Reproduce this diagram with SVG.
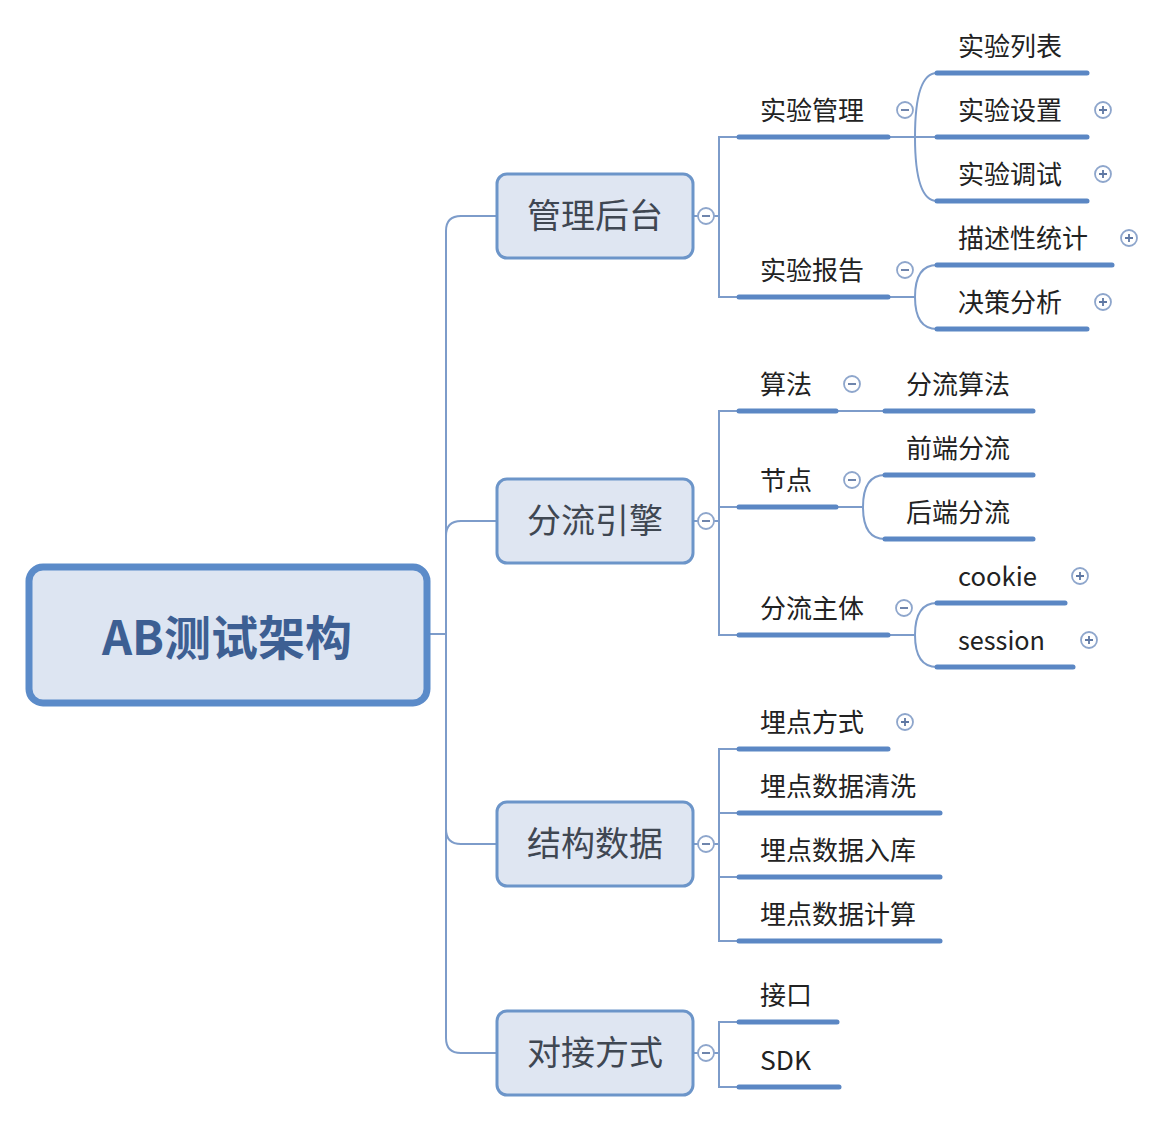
<svg xmlns="http://www.w3.org/2000/svg" width="1154" height="1122" viewBox="0 0 1154 1122">
<style>
  .conn { fill: none; stroke: #7d9cca; stroke-width: 2; }
  .ul { stroke: #5b87c4; stroke-width: 5; stroke-linecap: round; }
  .root { fill: #dde5f2; stroke: #5b8bc9; stroke-width: 7; }
  .main { fill: #dfe6f2; stroke: #6c95c9; stroke-width: 3; }
  .rt { font-family: "Noto Sans CJK SC", "Noto Sans", sans-serif; font-size: 47px; font-weight: bold; fill: #3d5f93; text-anchor: middle; }
  .mt { font-family: "Noto Sans CJK SC", "Noto Sans", sans-serif; font-size: 34px; fill: #3f4752; text-anchor: middle; }
  .t { font-family: "Noto Sans CJK SC", "Noto Sans", sans-serif; font-size: 26px; fill: #222222; }
  .bc { fill: #ffffff; stroke: #8ea6cc; stroke-width: 1.8; }
  .bs { fill: none; stroke: #5f78a3; stroke-width: 1.8; }
</style>
<defs>
  <g id="minus"><circle class="bc" cx="0" cy="0" r="8"/><path class="bs" d="M-4,0 H4"/></g>
  <g id="plus"><circle class="bc" cx="0" cy="0" r="8"/><path class="bs" d="M-4,0 H4 M0,-4 V4"/></g>
</defs>
<rect width="1154" height="1122" fill="#ffffff"/>

<g id="connectors">
  <path class="conn" d="M430,634 H446 V231 Q446,216 461,216 H497"/>
  <path class="conn" d="M446,634 V536 Q446,521 461,521 H497"/>
  <path class="conn" d="M446,634 V829 Q446,844 461,844 H497"/>
  <path class="conn" d="M446,634 V1038 Q446,1053 461,1053 H497"/>
  <path class="conn" d="M693,216 H698 M714,216 H719"/>
  <path class="conn" d="M693,521 H698 M714,521 H719"/>
  <path class="conn" d="M693,844 H698 M714,844 H719"/>
  <path class="conn" d="M693,1053 H698 M714,1053 H719"/>
  <path class="conn" d="M739,137 H719 V297 H739"/>
  <path class="conn" d="M888,137 H937 M915,137 Q915,73 937,73 M915,137 Q915,201 937,201"/>
  <path class="conn" d="M888,297 H915 Q915,265 937,265 M915,297 Q915,329 937,329"/>
  <path class="conn" d="M739,411 H719 V635 H739 M719,507 H739"/>
  <path class="conn" d="M836,411 H885"/>
  <path class="conn" d="M836,507 H863 Q863,475 885,475 M863,507 Q863,539 885,539"/>
  <path class="conn" d="M888,635 H915 Q915,603 937,603 M915,635 Q915,667 937,667"/>
  <path class="conn" d="M739,749 H719 V941 H739 M719,813 H739 M719,877 H739"/>
  <path class="conn" d="M739,1022 H719 V1087 H739"/>
</g>

<g id="root">
  <rect class="root" x="29" y="567" width="398" height="136" rx="14"/>
  <text class="rt" x="227" y="655">AB测试架构</text>
</g>

<g id="n-guanli">
  <rect class="main" x="497" y="174" width="196" height="84" rx="10"/>
  <text class="mt" x="595" y="228">管理后台</text>
  <use href="#minus" x="706" y="216"/>
</g>
<g id="n-fenliu">
  <rect class="main" x="497" y="479" width="196" height="84" rx="10"/>
  <text class="mt" x="595" y="533">分流引擎</text>
  <use href="#minus" x="706" y="521"/>
</g>
<g id="n-jiegou">
  <rect class="main" x="497" y="802" width="196" height="84" rx="10"/>
  <text class="mt" x="595" y="856">结构数据</text>
  <use href="#minus" x="706" y="844"/>
</g>
<g id="n-duijie">
  <rect class="main" x="497" y="1011" width="196" height="84" rx="10"/>
  <text class="mt" x="595" y="1065">对接方式</text>
  <use href="#minus" x="706" y="1053"/>
</g>

<g id="n-shiyanguanli">
  <line class="ul" x1="739" y1="137" x2="888" y2="137"/>
  <text class="t" x="760" y="120">实验管理</text>
  <use href="#minus" x="905" y="110"/>
</g>
<g id="n-shiyanliebiao">
  <line class="ul" x1="937" y1="73" x2="1087" y2="73"/>
  <text class="t" x="958" y="56">实验列表</text>
</g>
<g id="n-shiyanshezhi">
  <line class="ul" x1="937" y1="137" x2="1087" y2="137"/>
  <text class="t" x="958" y="120">实验设置</text>
  <use href="#plus" x="1103" y="110"/>
</g>
<g id="n-shiyantiaoshi">
  <line class="ul" x1="937" y1="201" x2="1087" y2="201"/>
  <text class="t" x="958" y="184">实验调试</text>
  <use href="#plus" x="1103" y="174"/>
</g>
<g id="n-shiyanbaogao">
  <line class="ul" x1="739" y1="297" x2="888" y2="297"/>
  <text class="t" x="760" y="280">实验报告</text>
  <use href="#minus" x="905" y="270"/>
</g>
<g id="n-miaoshu">
  <line class="ul" x1="937" y1="265" x2="1112" y2="265"/>
  <text class="t" x="958" y="248">描述性统计</text>
  <use href="#plus" x="1129" y="238"/>
</g>
<g id="n-juece">
  <line class="ul" x1="937" y1="329" x2="1087" y2="329"/>
  <text class="t" x="958" y="312">决策分析</text>
  <use href="#plus" x="1103" y="302"/>
</g>

<g id="n-suanfa">
  <line class="ul" x1="739" y1="411" x2="836" y2="411"/>
  <text class="t" x="760" y="394">算法</text>
  <use href="#minus" x="852" y="384"/>
</g>
<g id="n-fenliusuanfa">
  <line class="ul" x1="885" y1="411" x2="1033" y2="411"/>
  <text class="t" x="906" y="394">分流算法</text>
</g>
<g id="n-jiedian">
  <line class="ul" x1="739" y1="507" x2="836" y2="507"/>
  <text class="t" x="760" y="490">节点</text>
  <use href="#minus" x="852" y="480"/>
</g>
<g id="n-qianduan">
  <line class="ul" x1="885" y1="475" x2="1033" y2="475"/>
  <text class="t" x="906" y="458">前端分流</text>
</g>
<g id="n-houduan">
  <line class="ul" x1="885" y1="539" x2="1033" y2="539"/>
  <text class="t" x="906" y="522">后端分流</text>
</g>
<g id="n-zhuti">
  <line class="ul" x1="739" y1="635" x2="888" y2="635"/>
  <text class="t" x="760" y="618">分流主体</text>
  <use href="#minus" x="904" y="608"/>
</g>
<g id="n-cookie">
  <line class="ul" x1="937" y1="603" x2="1065" y2="603"/>
  <text class="t" x="958" y="586" textLength="79" lengthAdjust="spacingAndGlyphs">cookie</text>
  <use href="#plus" x="1080" y="576"/>
</g>
<g id="n-session">
  <line class="ul" x1="937" y1="667" x2="1073" y2="667"/>
  <text class="t" x="958" y="650" textLength="87" lengthAdjust="spacingAndGlyphs">session</text>
  <use href="#plus" x="1089" y="640"/>
</g>

<g id="n-maidianfangshi">
  <line class="ul" x1="739" y1="749" x2="888" y2="749"/>
  <text class="t" x="760" y="732">埋点方式</text>
  <use href="#plus" x="905" y="722"/>
</g>
<g id="n-qingxi">
  <line class="ul" x1="739" y1="813" x2="940" y2="813"/>
  <text class="t" x="760" y="796">埋点数据清洗</text>
</g>
<g id="n-ruku">
  <line class="ul" x1="739" y1="877" x2="940" y2="877"/>
  <text class="t" x="760" y="860">埋点数据入库</text>
</g>
<g id="n-jisuan">
  <line class="ul" x1="739" y1="941" x2="940" y2="941"/>
  <text class="t" x="760" y="924">埋点数据计算</text>
</g>

<g id="n-jiekou">
  <line class="ul" x1="739" y1="1022" x2="837" y2="1022"/>
  <text class="t" x="760" y="1005">接口</text>
</g>
<g id="n-sdk">
  <line class="ul" x1="739" y1="1087" x2="839" y2="1087"/>
  <text class="t" x="760" y="1070" textLength="51" lengthAdjust="spacingAndGlyphs">SDK</text>
</g>
</svg>
